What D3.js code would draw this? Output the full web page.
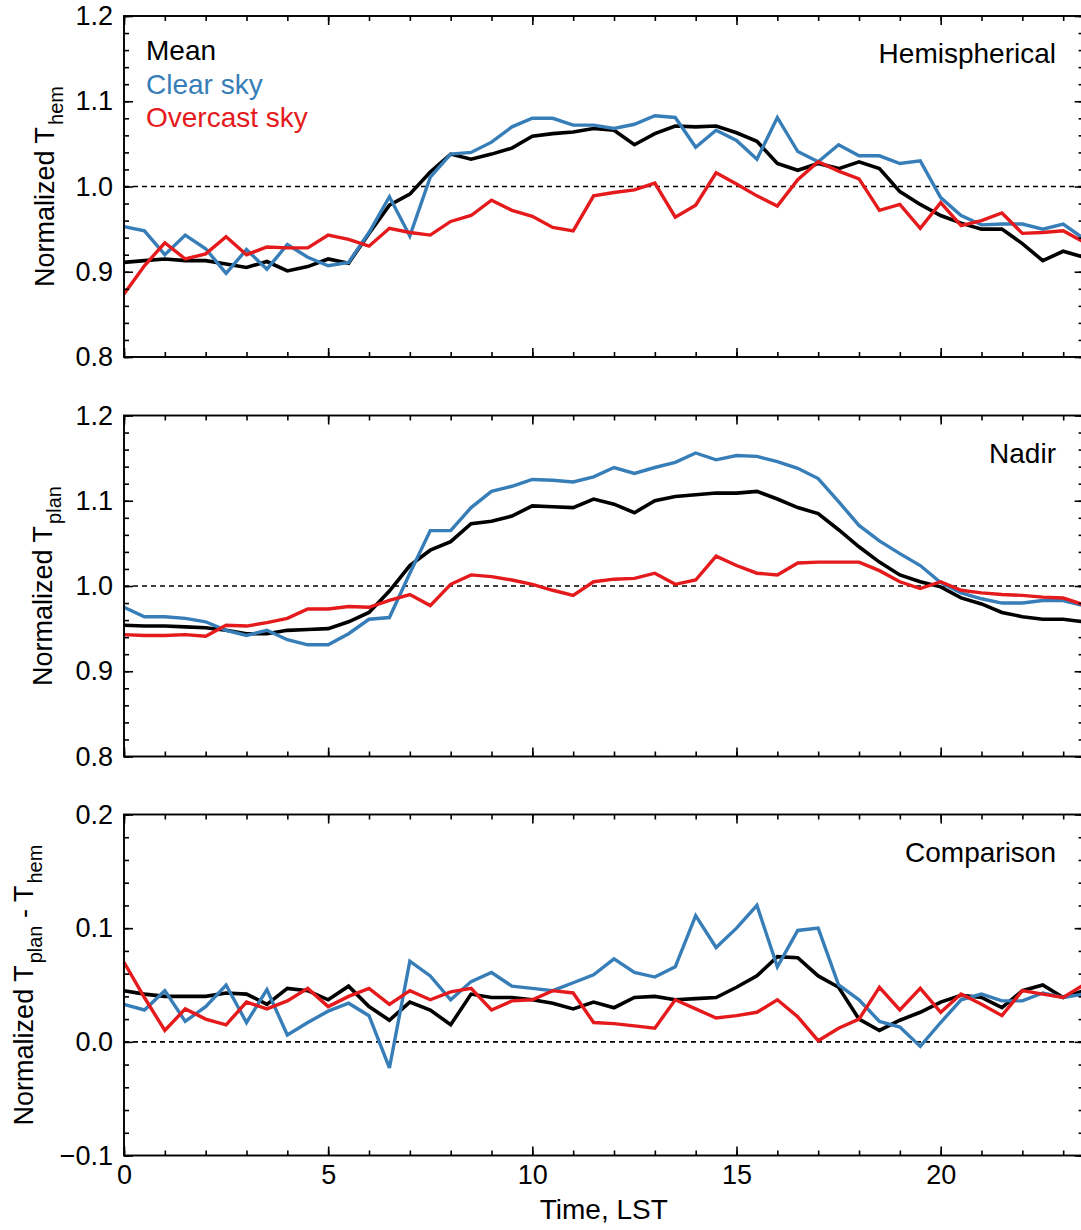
<!DOCTYPE html>
<html>
<head>
<meta charset="utf-8">
<script src="https://cdn.jsdelivr.net/npm/d3@7"></script>
<style>
  body { margin: 0; background: #fff; }
  svg { display: block; }
  text { font-family: "Liberation Sans", Arial, Helvetica, sans-serif; }
</style>
</head>
<body>
<svg id="chart" width="1081" height="1230"></svg>
<script>
// Local solar time, half-hourly
const hours = d3.range(48).map(i => i * 0.5);

// Hemispherical
const hemMean = [0.911,0.913,0.915,0.913,0.913,0.909,0.905,0.912,0.901,0.906,0.915,0.910,
  0.945,0.978,0.991,1.017,1.038,1.032,1.038,1.045,1.059,1.062,1.064,1.068,
  1.066,1.049,1.062,1.071,1.070,1.071,1.063,1.053,1.027,1.019,1.027,1.021,
  1.029,1.021,0.994,0.979,0.966,0.957,0.950,0.950,0.933,0.913,0.924,0.917];
const hemClear = [0.953,0.948,0.920,0.943,0.927,0.898,0.926,0.903,0.932,0.917,0.907,0.911,
  0.946,0.988,0.942,1.011,1.038,1.040,1.052,1.070,1.080,1.080,1.072,1.072,
  1.068,1.073,1.083,1.081,1.046,1.066,1.054,1.032,1.081,1.041,1.029,1.049,
  1.036,1.036,1.027,1.030,0.987,0.966,0.955,0.956,0.956,0.950,0.956,0.939];
const hemOvercast = [0.874,0.907,0.934,0.915,0.921,0.941,0.920,0.929,0.928,0.928,0.943,0.938,
  0.930,0.951,0.946,0.943,0.959,0.966,0.984,0.972,0.965,0.952,0.948,0.989,
  0.993,0.996,1.004,0.964,0.978,1.016,1.003,0.989,0.977,1.008,1.029,1.018,
  1.009,0.972,0.979,0.951,0.981,0.954,0.960,0.969,0.945,0.946,0.948,0.935];

// Nadir
const nadMean = [0.954,0.953,0.953,0.952,0.951,0.948,0.944,0.944,0.948,0.949,0.950,0.958,
  0.969,0.994,1.024,1.042,1.052,1.073,1.076,1.082,1.094,1.093,1.092,1.102,
  1.096,1.086,1.100,1.105,1.107,1.109,1.109,1.111,1.102,1.092,1.085,1.066,
  1.046,1.028,1.013,1.005,0.999,0.986,0.979,0.969,0.964,0.961,0.961,0.958];
const nadClear = [0.975,0.964,0.964,0.962,0.958,0.948,0.942,0.948,0.937,0.931,0.931,0.944,
  0.961,0.963,1.015,1.065,1.065,1.092,1.111,1.117,1.125,1.124,1.122,1.128,
  1.139,1.132,1.139,1.145,1.156,1.148,1.153,1.152,1.146,1.138,1.126,1.099,
  1.071,1.053,1.038,1.024,1.004,0.992,0.985,0.980,0.980,0.983,0.983,0.977];
const nadOvercast = [0.943,0.942,0.942,0.943,0.941,0.954,0.953,0.957,0.962,0.973,0.973,0.976,
  0.975,0.983,0.990,0.977,1.002,1.013,1.011,1.007,1.002,0.995,0.989,1.005,
  1.008,1.009,1.015,1.002,1.007,1.035,1.024,1.015,1.013,1.027,1.028,1.028,
  1.028,1.018,1.005,0.997,1.005,0.995,0.992,0.990,0.989,0.987,0.986,0.978];

// Nadir minus hemispherical
const difMean = [0.045,0.042,0.040,0.040,0.040,0.043,0.042,0.033,0.047,0.045,0.037,0.049,
  0.031,0.019,0.035,0.028,0.015,0.042,0.039,0.039,0.037,0.034,0.029,0.035,
  0.030,0.039,0.040,0.037,0.038,0.039,0.048,0.058,0.075,0.074,0.058,0.048,
  0.020,0.010,0.019,0.026,0.035,0.041,0.039,0.030,0.045,0.050,0.039,0.045];
const difClear = [0.033,0.028,0.045,0.018,0.031,0.050,0.017,0.046,0.006,0.017,0.027,0.034,
  0.023,-0.023,0.071,0.058,0.037,0.053,0.061,0.049,0.047,0.045,0.052,0.059,
  0.073,0.061,0.057,0.066,0.111,0.083,0.100,0.120,0.066,0.098,0.100,0.050,
  0.037,0.018,0.013,-0.004,0.017,0.037,0.042,0.036,0.036,0.043,0.039,0.042];
const difOvercast = [0.070,0.039,0.010,0.029,0.020,0.015,0.035,0.029,0.036,0.047,0.031,0.040,
  0.047,0.033,0.045,0.037,0.044,0.047,0.028,0.036,0.037,0.045,0.043,0.017,
  0.016,0.014,0.012,0.037,0.029,0.021,0.023,0.026,0.037,0.022,0.001,0.012,
  0.020,0.048,0.028,0.047,0.026,0.042,0.033,0.023,0.045,0.042,0.039,0.050];

const seriesNames = ["Mean", "Clear sky", "Overcast sky"];
const seriesColors = ["#000000", "#377eb8", "#e41a1c"];
const seriesWidths = [3.6, 3.4, 3.4];

const xTicksMajor = [0, 5, 10, 15, 20];
const xTicksMinor = d3.range(0, 24, 1);

const panels = [
  { top: 16,    domain: [0.8, 1.2],  ref: 1.0, data: [hemMean, hemClear, hemOvercast],
    yMajor: [0.8, 0.9, 1.0, 1.1, 1.2], title: "Hemispherical", titleY: 63,
    label: [["Normalized T", 0], ["hem", 1]], labelX: 54, xLabels: false, legend: true },
  { top: 415.5, domain: [0.8, 1.2],  ref: 1.0, data: [nadMean, nadClear, nadOvercast],
    yMajor: [0.8, 0.9, 1.0, 1.1, 1.2], title: "Nadir", titleY: 463,
    label: [["Normalized T", 0], ["plan", 1]], labelX: 52, xLabels: false, legend: false },
  { top: 814.5, domain: [-0.1, 0.2], ref: 0.0, data: [difMean, difClear, difOvercast],
    yMajor: [-0.1, 0.0, 0.1, 0.2], title: "Comparison", titleY: 862,
    label: [["Normalized T", 0], ["plan", 1], [" - T", 0], ["hem", 1]], labelX: 33, xLabels: true, legend: false }
];

const svg = d3.select("#chart");
const left = 124, right = 1083.6, panelH = 341;
const x = d3.scaleLinear().domain([0, 23.5]).range([left, right]);

const fmtY = d => d < 0 ? "\u2212" + Math.abs(d).toFixed(1) : d.toFixed(1);

panels.forEach(p => {
  const y = d3.scaleLinear().domain(p.domain).range([p.top + panelH, p.top]);
  const g = svg.append("g");
  const step = 0.02;
  const yMinor = d3.range(Math.round((p.domain[1] - p.domain[0]) / step) + 1)
    .map(k => +(p.domain[0] + k * step).toFixed(3));

  // reference line
  g.append("line")
    .attr("x1", left).attr("x2", right)
    .attr("y1", y(p.ref)).attr("y2", y(p.ref))
    .attr("stroke", "#000").attr("stroke-width", 1.6)
    .attr("stroke-dasharray", "5,4");

  // data lines
  const line = d3.line().x((d, i) => x(hours[i])).y(d => y(d));
  p.data.forEach((arr, s) => {
    g.append("path")
      .datum(arr)
      .attr("d", line)
      .attr("fill", "none")
      .attr("stroke", seriesColors[s])
      .attr("stroke-width", seriesWidths[s])
      .attr("stroke-linejoin", "miter")
      .attr("stroke-miterlimit", 3);
  });

  // axes (ticks pointing inward)
  const axStyle = sel => {
    sel.select(".domain").remove();
    sel.selectAll(".tick line").attr("stroke", "#000").attr("stroke-width", 1.6);
    sel.selectAll("text").attr("font-size", 27).style("fill", "#000");
  };
  g.append("g").attr("transform", `translate(${left},0)`)
    .call(d3.axisLeft(y).tickValues(yMinor).tickSize(-5).tickFormat("")).call(axStyle);
  g.append("g").attr("transform", `translate(${left},0)`)
    .call(d3.axisLeft(y).tickValues(p.yMajor).tickSize(-9).tickPadding(11).tickFormat(fmtY)).call(axStyle);
  g.append("g").attr("transform", `translate(${right},0)`)
    .call(d3.axisRight(y).tickValues(yMinor).tickSize(-5).tickFormat("")).call(axStyle);
  g.append("g").attr("transform", `translate(${right},0)`)
    .call(d3.axisRight(y).tickValues(p.yMajor).tickSize(-9).tickFormat("")).call(axStyle);
  g.append("g").attr("transform", `translate(0,${p.top})`)
    .call(d3.axisTop(x).tickValues(xTicksMinor).tickSize(-5).tickFormat("")).call(axStyle);
  g.append("g").attr("transform", `translate(0,${p.top})`)
    .call(d3.axisTop(x).tickValues(xTicksMajor).tickSize(-9).tickFormat("")).call(axStyle);
  g.append("g").attr("transform", `translate(0,${p.top + panelH})`)
    .call(d3.axisBottom(x).tickValues(xTicksMinor).tickSize(-5).tickFormat("")).call(axStyle);
  g.append("g").attr("transform", `translate(0,${p.top + panelH})`)
    .call(d3.axisBottom(x).tickValues(xTicksMajor).tickSize(-9).tickPadding(9)
      .tickFormat(p.xLabels ? d3.format("d") : "")).call(axStyle);

  // frame
  g.append("rect")
    .attr("x", left).attr("y", p.top)
    .attr("width", right - left).attr("height", panelH)
    .attr("fill", "none").attr("stroke", "#000").attr("stroke-width", 1.9);

  // panel title
  g.append("text")
    .attr("x", 1056).attr("y", p.titleY)
    .attr("text-anchor", "end").attr("font-size", 28)
    .style("fill", "#000")
    .text(p.title);

  // y-axis title with subscripts
  const t = g.append("text")
    .attr("transform", `translate(${p.labelX},${p.top + panelH / 2}) rotate(-90)`)
    .attr("text-anchor", "middle").attr("font-size", 27)
    .style("fill", "#000");
  let shifted = false;
  p.label.forEach(([str, sub]) => {
    const ts = t.append("tspan").text(str);
    if (sub && !shifted) { ts.attr("dy", 9).attr("font-size", 20).attr("dx", 2); shifted = true; }
    else if (!sub && shifted) { ts.attr("dy", -9); shifted = false; }
    else if (sub) { ts.attr("font-size", 20); }
  });

  if (p.legend) {
    seriesNames.forEach((n, s) => {
      g.append("text")
        .attr("x", 146).attr("y", 60 + s * 33.6)
        .attr("font-size", 28)
        .style("fill", seriesColors[s])
        .text(n);
    });
  }
});

// x-axis title
svg.append("text")
  .attr("x", x(11.75)).attr("y", 1219)
  .attr("text-anchor", "middle").attr("font-size", 28)
  .style("fill", "#000")
  .text("Time, LST");
</script>
</body>
</html>
